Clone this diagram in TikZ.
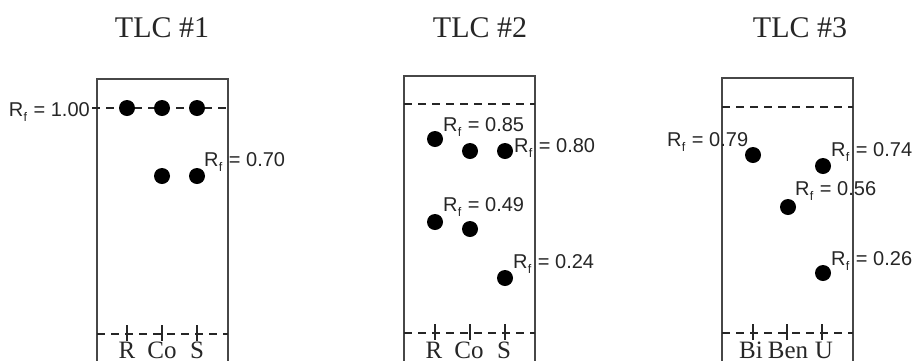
\documentclass[tikz,border=0pt]{standalone}
\usepackage{fontspec}
\setmainfont{Liberation Serif}
\newfontfamily\arialf{Liberation Sans}
\newcommand{\RfLab}[1]{R\kern0.3pt\raisebox{-5pt}{\fontsize{12.5}{12.5}\selectfont f}\kern1pt{} = #1}
\begin{document}
\begin{tikzpicture}[x=1pt,y=-1pt,
  plate/.style={draw=black!72, line width=2.3pt},
  dashline/.style={draw=black!85, line width=1.8pt, dash pattern=on 8pt off 6pt},
  lanetick/.style={draw=black!85, line width=1.5pt},
  spot/.style={circle, fill=black, inner sep=0pt, minimum size=16pt},
  rf/.style={font=\arialf\fontsize{20}{20}\selectfont, text=black!85, anchor=base west, inner sep=0pt},
  title/.style={font=\fontsize{30}{30}\selectfont, text=black!85, anchor=base, inner sep=0pt},
  lane/.style={font=\fontsize{25}{25}\selectfont, text=black!85, anchor=base, inner sep=0pt}]
\useasboundingbox (0,0) rectangle (913,360);
\fill[white] (0,0) rectangle (913,360);

% ---------- TLC #1 ----------
\node[title] (t1) at (162,37) {TLC \#1};
\draw[plate] (97,79) rectangle (228,372);
\draw[dashline] (92,108) -- (228,108);
\draw[dashline] (97,334) -- (228,334);
\foreach \x in {127,162,197} \draw[lanetick] (\x,325) -- (\x,341);
\node[lane] (l1a) at (127,358) {R};
\node[lane] (l1b) at (162,358) {Co};
\node[lane] (l1c) at (197,358) {S};
\node[spot] (s1a) at (127,108) {};
\node[spot] (s1b) at (162,108) {};
\node[spot] (s1c) at (197,108) {};
\node[spot] (s1d) at (162,176) {};
\node[spot] (s1e) at (197,176) {};
\node[rf, anchor=base east] (r1a) at (90,116) {\RfLab{1.00}};
\node[rf] (r1b) at (204,166) {\RfLab{0.70}};

% ---------- TLC #2 ----------
\node[title] (t2) at (480,37) {TLC \#2};
\draw[plate] (404,76) rectangle (535,372);
\draw[dashline] (404,104) -- (535,104);
\draw[dashline] (404,333) -- (535,333);
\foreach \x in {435,470,505} \draw[lanetick] (\x,324) -- (\x,340);
\node[lane] (l2a) at (434,358) {R};
\node[lane] (l2b) at (469,358) {Co};
\node[lane] (l2c) at (504,358) {S};
\node[spot] (s2a) at (435,139) {};
\node[spot] (s2b) at (470,151) {};
\node[spot] (s2c) at (505,151) {};
\node[spot] (s2d) at (435,222) {};
\node[spot] (s2e) at (470,229) {};
\node[spot] (s2f) at (505,278) {};
\node[rf] (r2a) at (443,131) {\RfLab{0.85}};
\node[rf] (r2b) at (514,152) {\RfLab{0.80}};
\node[rf] (r2c) at (443,211) {\RfLab{0.49}};
\node[rf] (r2d) at (513,268) {\RfLab{0.24}};

% ---------- TLC #3 ----------
\node[title] (t3) at (800,37) {TLC \#3};
\draw[plate] (722,78) rectangle (853,372);
\draw[dashline] (722,107) -- (853,107);
\draw[dashline] (722,333) -- (853,333);
\foreach \x in {753,787,822} \draw[lanetick] (\x,324) -- (\x,340);
\node[lane] (l3a) at (751,358) {Bi};
\node[lane] (l3b) at (788,358) {Ben};
\node[lane] (l3c) at (824,358) {U};
\node[spot] (s3a) at (753,155) {};
\node[spot] (s3b) at (823,166) {};
\node[spot] (s3c) at (788,207) {};
\node[spot] (s3d) at (823,273) {};
\node[rf] (r3a) at (667,146) {\RfLab{0.79}};
\node[rf] (r3b) at (831,156) {\RfLab{0.74}};
\node[rf] (r3c) at (795,195) {\RfLab{0.56}};
\node[rf] (r3d) at (831,265) {\RfLab{0.26}};
\end{tikzpicture}
\end{document}
